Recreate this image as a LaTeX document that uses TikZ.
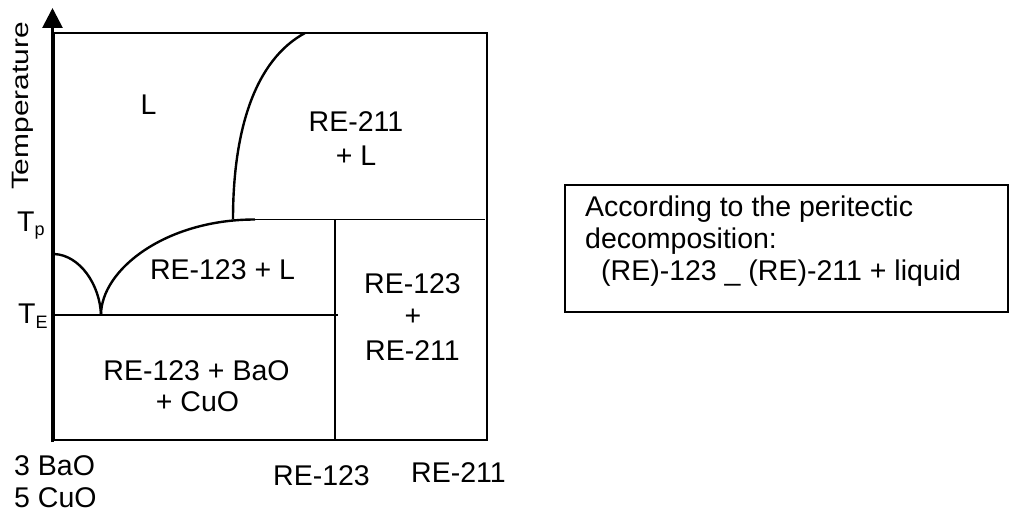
\documentclass[tikz,border=0pt]{standalone}
\usepackage{fontspec}
\setmainfont{Liberation Sans}
\usetikzlibrary{arrows.meta}
\begin{document}
\begin{tikzpicture}[x=1pt,y=-1pt,
  lbl/.style={inner sep=0pt, font=\fontsize{28.5}{32}\selectfont},
  boxline/.style={line width=1.5pt},
  curveline/.style={line width=2.4pt},
  axisline/.style={line width=2.8pt, -{Triangle[width=20pt,length=20pt]}}]
\useasboundingbox (0,0) rectangle (1010,516);
% frame
\coordinate (TL) at (54,33);
\coordinate (BR) at (487,440);
\draw[boxline] (TL) rectangle (BR);
% axis
\coordinate (axB) at (52.5,442);
\coordinate (axT) at (52.5,8);
\draw[axisline] (axB) -- (axT);
% lines
\coordinate (Pl) at (255,219.5);
\coordinate (Pr) at (485,219.5);
\coordinate (Vt) at (335,219.5);
\coordinate (Vb) at (335,440);
\coordinate (El) at (54,315);
\coordinate (Er) at (338,315);
\coordinate (Eu) at (101,315);
\coordinate (Ls) at (54,254);
\coordinate (Us) at (233,219.5);
\coordinate (Ue) at (305,33);
\draw[boxline] (Pl) -- (Pr);
\draw[boxline] (Vt) -- (Vb);
\draw[boxline] (El) -- (Er);
% curves
\draw[curveline] (Ls) .. controls (80,255) and (100,285) .. (Eu);
\draw[curveline] (Eu) .. controls (101,270) and (165,219.5) .. (Pl);
\draw[curveline] (Us) .. controls (233,130) and (255,60) .. (Ue);
% axis labels
\node[lbl, rotate=90, anchor=base] (temp) at (28.4,106) {\scalebox{1.05}[0.83]{Temperature}};
\node[lbl, anchor=base west] (tp) at (17,232) {T\raisebox{-3pt}{\fontsize{18}{18}\selectfont p}};
\node[lbl, anchor=base west] (te) at (18,323) {T\raisebox{-5pt}{\fontsize{18}{18}\selectfont E}};
% region labels
\node[lbl, anchor=base] (L) at (148.5,115) {L};
\node[lbl, anchor=base] (r211a) at (356,132) {RE-211};
\node[lbl, anchor=base] (r211b) at (356,166) {+ L};
\node[lbl, anchor=base] (r123L) at (222.5,279) {RE-123 + L};
\node[lbl, anchor=base] (r123Ba) at (196.5,380) {RE-123 + BaO};
\node[lbl, anchor=base] (r123Cu) at (197.5,411) {+ CuO};
\node[lbl, anchor=base] (mixa) at (412.5,293) {RE-123};
\node[lbl, anchor=base] (mixb) at (413,325) {+};
\node[lbl, anchor=base] (mixc) at (412.5,360) {RE-211};
% bottom labels
\node[lbl, anchor=base west] (bao) at (14,475) {3 BaO};
\node[lbl, anchor=base west] (cuo) at (14,507) {5 CuO};
\node[lbl, anchor=base west] (x123) at (273,485) {RE-123};
\node[lbl, anchor=base west] (x211) at (411,482) {RE-211};
% note box
\coordinate (nTL) at (565,185);
\coordinate (nBR) at (1008,312);
\draw[boxline] (nTL) rectangle (nBR);
\node[lbl, anchor=base west] (n1) at (585,217) {According to the peritectic};
\node[lbl, anchor=base west] (n2) at (585,248) {decomposition:};
\node[lbl, anchor=base west] (n3) at (601,280) {(RE)-123 \_ (RE)-211 + liquid};
\end{tikzpicture}
\end{document}
